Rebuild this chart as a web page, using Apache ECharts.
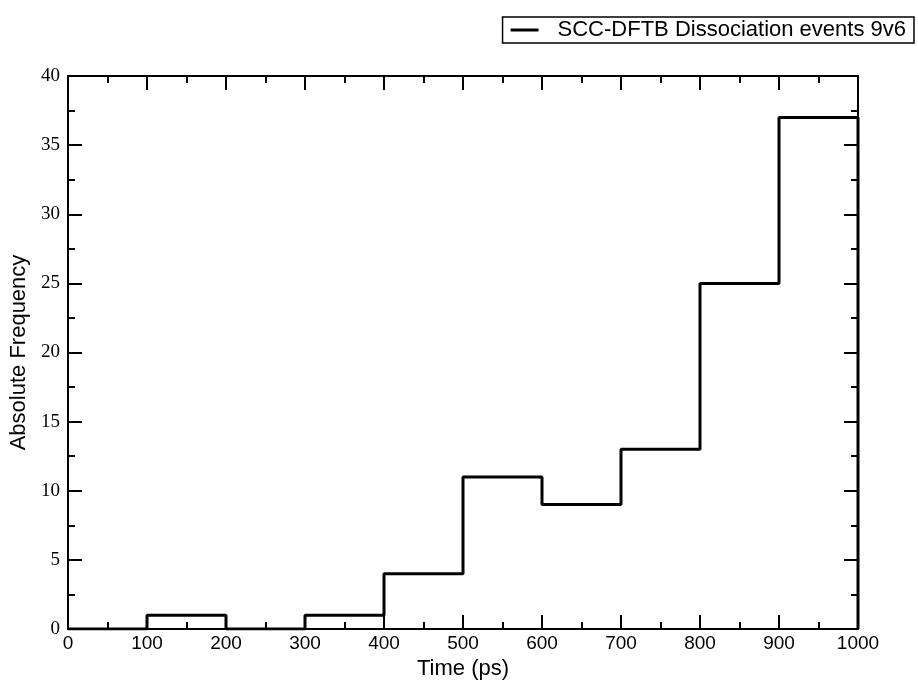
<!DOCTYPE html>
<html>
<head>
<meta charset="utf-8">
<script src="https://cdn.jsdelivr.net/npm/echarts@6/dist/echarts.min.js"></script>
<style>
html,body{margin:0;padding:0;background:#fff;}
#chart{width:918px;height:683px;}
</style>
</head>
<body>
<div id="chart"></div>
<script>
// Histogram bins (start of each 100 ps bin) and counts
const binStarts = [0, 100, 200, 300, 400, 500, 600, 700, 800, 900];
const binWidth = 100;
const counts = [0, 1, 0, 1, 4, 11, 9, 13, 25, 37];
const seriesName = 'SCC-DFTB Dissociation events 9v6';
const xTitle = 'Time (ps)';
const yTitle = 'Absolute Frequency';

// Step outline: each bin start plus the closing edge at the last bin end
const stepData = binStarts.map((x, i) => [x, counts[i]]);
const lastEnd = binStarts[binStarts.length - 1] + binWidth;
stepData.push([lastEnd, counts[counts.length - 1]]);
stepData.push([lastEnd, 0]);

const axisLine = { show: true, onZero: false, lineStyle: { color: '#000', width: 2 } };
const tick = { show: true, inside: true, length: 14, lineStyle: { color: '#000', width: 2 } };
const minor = { show: true, splitNumber: 2, length: 7, lineStyle: { color: '#000', width: 2 } };

const chart = echarts.init(document.getElementById('chart'), null, { renderer: 'canvas' });
chart.setOption({
  animation: false,
  backgroundColor: '#fff',
  grid: { left: 68, right: 60, top: 76, bottom: 54, containLabel: false, outerBoundsMode: 'none' },
  legend: {
    right: 4, top: 17,
    data: [seriesName],
    itemWidth: 28, itemHeight: 3,
    padding: [2, 8, 2, 8],
    borderColor: '#000', borderWidth: 1.5,
    textStyle: { fontFamily: 'Liberation Sans', fontSize: 22, color: '#000', padding: [0, 0, 0, 14] },
    icon: 'rect'
  },
  xAxis: [
    {
      type: 'value', min: 0, max: 1000, interval: 100, position: 'bottom',
      name: xTitle, nameLocation: 'middle', nameGap: 27,
      nameTextStyle: { fontFamily: 'Liberation Sans', fontSize: 22, color: '#000' },
      axisLine, axisTick: tick, minorTick: minor,
      splitLine: { show: false },
      axisLabel: { fontFamily: 'Liberation Sans', fontSize: 19, color: '#000', margin: 5,
        formatter: v => String(v) }
    },
    {
      type: 'value', min: 0, max: 1000, interval: 100, position: 'top',
      axisLine, axisTick: tick, minorTick: minor,
      splitLine: { show: false }, axisLabel: { show: false }
    }
  ],
  yAxis: [
    {
      type: 'value', min: 0, max: 40, interval: 5, position: 'left',
      name: yTitle, nameLocation: 'middle', nameGap: 37, nameRotate: 90,
      nameTextStyle: { fontFamily: 'Liberation Sans', fontSize: 22, color: '#000' },
      axisLine, axisTick: tick, minorTick: minor,
      splitLine: { show: false },
      axisLabel: { fontFamily: 'Liberation Serif', fontSize: 19, color: '#000', margin: 8 }
    },
    {
      type: 'value', min: 0, max: 40, interval: 5, position: 'right',
      axisLine, axisTick: tick, minorTick: minor,
      splitLine: { show: false }, axisLabel: { show: false }
    }
  ],
  series: [
    {
      name: seriesName,
      type: 'line',
      step: 'end',
      data: stepData,
      symbol: 'none',
      lineStyle: { color: '#000', width: 3 },
      itemStyle: { color: '#000' },
      z: 5
    }
  ]
});
</script>
</body>
</html>
